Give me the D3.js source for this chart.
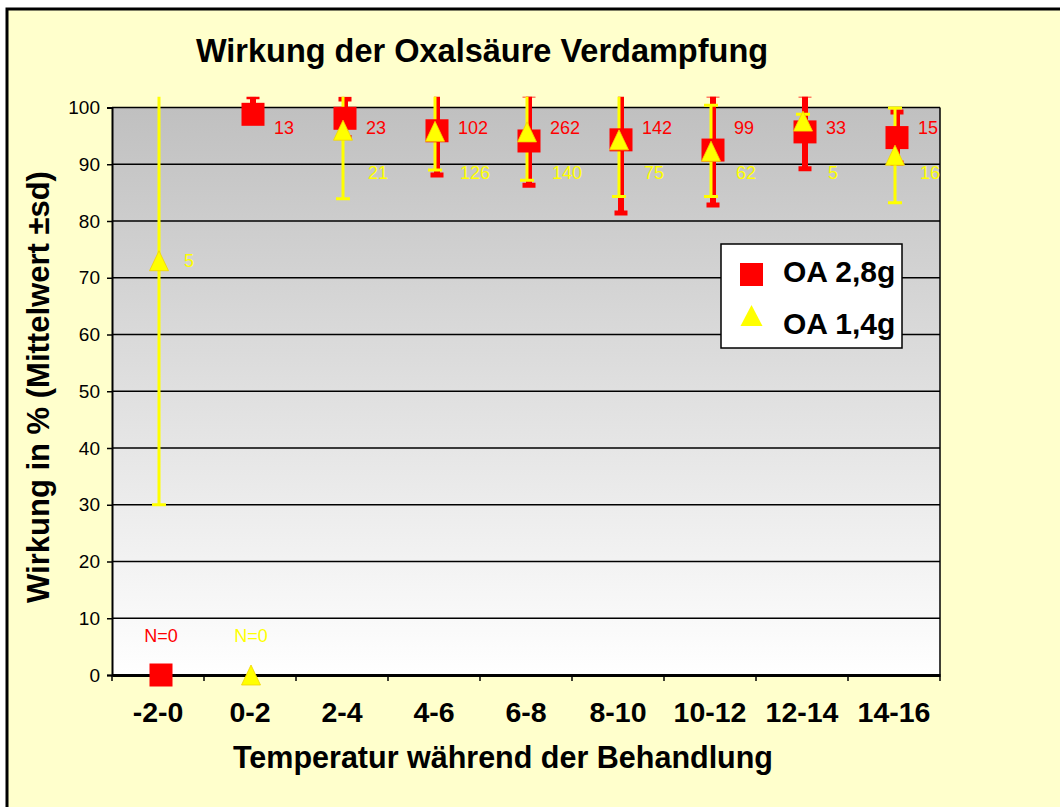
<!DOCTYPE html>
<html>
<head>
<meta charset="utf-8">
<script src="https://cdn.jsdelivr.net/npm/d3@7"></script>
<style>
  body { margin: 0; background: #fff; }
  svg { display: block; font-family: "Liberation Sans", Arial, sans-serif; }
</style>
</head>
<body>
<svg id="chart" width="1060" height="807"></svg>
<script>
const categories = ["-2-0", "0-2", "2-4", "4-6", "6-8", "8-10", "10-12", "12-14", "14-16"];

// OA 2,8g (red squares)
const redMean  = [0, 98.8, 98.1, 95.9, 94.1, 94.3, 92.5, 95.7, 94.7];
const redPlus  = [0, 3.1, 3.4, 7.8, 8.1, 12.9, 9.7, 6.5, 4.5];
const redMinus = [0, 0, 3.4, 7.8, 7.8, 12.9, 9.7, 6.5, 4.5];
const redN     = [0, 13, 23, 102, 262, 142, 99, 33, 15];

// OA 1,4g (yellow triangles)
const yellowMean  = [73.0, 0, 96.0, 95.8, 95.7, 94.3, 92.3, 97.6, 91.6];
const yellowPlus  = [43, 0, 12.1, 6.8, 8.5, 10, 8.1, 1.2, 8.3];
const yellowMinus = [43, 0, 12.1, 6.8, 8.5, 10, 8.0, 1.2, 8.4];
const yellowN     = [5, 0, 21, 126, 140, 75, 62, 5, 16];

const yTicks = [0, 10, 20, 30, 40, 50, 60, 70, 80, 90, 100];
const seriesNames = ["OA 2,8g", "OA 1,4g"];

const RED = "#ff0000";
const YELLOW = "#ffff00";
const FONT_B = "bold";

function drawChart() {
    const svg = d3.select("#chart");
    svg.selectAll("*").remove();

    const plot = { left: 112, right: 940, top: 107.5, bottom: 675 };

    const x = d3.scaleBand()
        .domain(categories)
        .range([plot.left, plot.right]);

    const y = d3.scaleLinear()
        .domain([0, 100])
        .range([plot.bottom, plot.top]);

    const defs = svg.append("defs");
    const grad = defs.append("linearGradient")
        .attr("id", "plotGrad")
        .attr("x1", 0).attr("y1", 0).attr("x2", 0).attr("y2", 1);
    grad.append("stop").attr("offset", "0%").attr("stop-color", "#c0c0c0");
    grad.append("stop").attr("offset", "100%").attr("stop-color", "#ffffff");

    defs.append("clipPath").attr("id", "errClip")
        .append("rect")
        .attr("x", 0).attr("y", y(101.9))
        .attr("width", 1060).attr("height", 807);

    // chart area background + outer frame
    svg.append("rect")
        .attr("x", 7).attr("y", 9)
        .attr("width", 1100).attr("height", 850)
        .attr("fill", "#ffffcc")
        .attr("stroke", "#000")
        .attr("stroke-width", 3);

    // plot area
    svg.append("rect")
        .attr("x", plot.left).attr("y", plot.top)
        .attr("width", plot.right - plot.left)
        .attr("height", plot.bottom - plot.top)
        .attr("fill", "url(#plotGrad)");

    // gridlines
    svg.append("g")
        .selectAll("line")
        .data(yTicks)
        .enter()
        .append("line")
        .attr("x1", plot.left).attr("x2", plot.right)
        .attr("y1", d => y(d)).attr("y2", d => y(d))
        .attr("stroke", "#000")
        .attr("stroke-width", 1.5);

    // right border of plot
    svg.append("line")
        .attr("x1", plot.right).attr("x2", plot.right)
        .attr("y1", plot.top).attr("y2", plot.bottom)
        .attr("stroke", "#000").attr("stroke-width", 1.5);

    // y axis
    const yAxis = svg.append("g")
        .attr("transform", `translate(${plot.left},0)`)
        .call(d3.axisLeft(y).tickValues(yTicks).tickSize(5).tickPadding(7));
    yAxis.select(".domain").attr("stroke", "#000").attr("stroke-width", 2);
    yAxis.selectAll(".tick line").attr("stroke", "#000").attr("stroke-width", 1.5);
    yAxis.selectAll(".tick text")
        .attr("font-size", 19)
        .attr("font-family", "Liberation Sans, Arial, sans-serif")
        .attr("fill", "#000");

    // x axis
    const xAxis = svg.append("g")
        .attr("transform", `translate(0,${plot.bottom})`)
        .call(d3.axisBottom(x).tickSize(0).tickPadding(47));
    xAxis.select(".domain").attr("stroke", "#000").attr("stroke-width", 3);
    xAxis.selectAll(".tick text")
        .attr("font-size", 28.5)
        .attr("font-weight", FONT_B)
        .attr("font-family", "Liberation Sans, Arial, sans-serif")
        .attr("fill", "#000")
        .attr("dy", 0);

    // x ticks at category boundaries
    const bounds = categories.map(c => x(c)).concat([plot.right]);
    svg.append("g")
        .selectAll("line")
        .data(bounds)
        .enter()
        .append("line")
        .attr("x1", d => d).attr("x2", d => d)
        .attr("y1", plot.bottom).attr("y2", plot.bottom + 6)
        .attr("stroke", "#000")
        .attr("stroke-width", 1.5);

    const cx = (i, dx) => x(categories[i]) + x.bandwidth() / 2 + dx;

    const redData = categories.map((c, i) => ({ i, mean: redMean[i], plus: redPlus[i], minus: redMinus[i], n: redN[i] }));
    const yellowData = categories.map((c, i) => ({ i, mean: yellowMean[i], plus: yellowPlus[i], minus: yellowMinus[i], n: yellowN[i] }));

    function errorBars(data, color, width, capW, capH, dx) {
        const g = svg.append("g").attr("clip-path", "url(#errClip)");
        const d2 = data.filter(d => d.n > 0);
        g.selectAll("line.stem")
            .data(d2)
            .enter()
            .append("line")
            .attr("x1", d => cx(d.i, dx)).attr("x2", d => cx(d.i, dx))
            .attr("y1", d => y(d.mean + d.plus))
            .attr("y2", d => y(d.mean - d.minus))
            .attr("stroke", color)
            .attr("stroke-width", width);
        const caps = [];
        d2.forEach(d => {
            if (d.plus > 0) caps.push({ i: d.i, v: d.mean + d.plus });
            if (d.minus > 0) caps.push({ i: d.i, v: d.mean - d.minus });
        });
        g.selectAll("line.cap")
            .data(caps)
            .enter()
            .append("line")
            .attr("x1", d => cx(d.i, dx) - capW / 2)
            .attr("x2", d => cx(d.i, dx) + capW / 2)
            .attr("y1", d => y(d.v)).attr("y2", d => y(d.v))
            .attr("stroke", color)
            .attr("stroke-width", capH);
    }

    errorBars(redData, RED, 6, 13, 5, 3);
    errorBars(yellowData, YELLOW, 3, 14, 3, 1);

    // red squares
    const sq = 23;
    svg.append("g")
        .selectAll("rect")
        .data(redData)
        .enter()
        .append("rect")
        .attr("x", d => cx(d.i, 3) - sq / 2)
        .attr("y", d => y(d.mean) - sq / 2)
        .attr("width", sq).attr("height", sq)
        .attr("fill", RED);

    // yellow triangles
    const tw = 19, th = 20;
    const tri = (px, py) => `M${px},${py - th / 2}L${px + tw / 2},${py + th / 2}L${px - tw / 2},${py + th / 2}Z`;
    svg.append("g")
        .selectAll("path")
        .data(yellowData)
        .enter()
        .append("path")
        .attr("d", d => tri(cx(d.i, 1), y(d.mean)))
        .attr("fill", YELLOW)
        .attr("stroke", "#f2d400")
        .attr("stroke-width", 0.8);

    // N labels: red on a fixed row, yellow on a fixed row unless the mean is lower
    const redLabelLevel = 96.5;
    const yellowLabelLevel = 88.5;
    const nZeroLevel = 7;

    function nLabels(data, color, levelOf, dx, gap) {
        svg.append("g")
            .selectAll("text")
            .data(data)
            .enter()
            .append("text")
            .attr("x", d => d.n > 0 ? cx(d.i, dx) + gap : cx(d.i, dx))
            .attr("y", d => d.n > 0 ? y(levelOf(d)) : y(nZeroLevel))
            .attr("dy", "0.35em")
            .attr("text-anchor", d => d.n > 0 ? "start" : "middle")
            .attr("font-size", 18)
            .attr("fill", color)
            .text(d => d.n > 0 ? d.n : "N=0");
    }
    nLabels(redData, RED, d => redLabelLevel, 3, 21);
    nLabels(yellowData, YELLOW, d => Math.min(yellowLabelLevel, d.mean), 1, 25);

    // title
    svg.append("text")
        .attr("x", 482).attr("y", 62)
        .attr("text-anchor", "middle")
        .attr("font-size", 32.5)
        .attr("font-weight", FONT_B)
        .text("Wirkung der Oxalsäure Verdampfung");

    // x axis title
    svg.append("text")
        .attr("x", 503).attr("y", 768)
        .attr("text-anchor", "middle")
        .attr("font-size", 30.5)
        .attr("font-weight", FONT_B)
        .text("Temperatur während der Behandlung");

    // y axis title
    svg.append("text")
        .attr("transform", `translate(49,387) rotate(-90)`)
        .attr("text-anchor", "middle")
        .attr("font-size", 31)
        .attr("font-weight", FONT_B)
        .text("Wirkung in % (Mittelwert ±sd)");

    // legend
    const legend = svg.append("g").attr("transform", "translate(721,244)");
    legend.append("rect")
        .attr("width", 181).attr("height", 104)
        .attr("fill", "#fff")
        .attr("stroke", "#000")
        .attr("stroke-width", 1.5);
    legend.append("rect")
        .attr("x", 19).attr("y", 19)
        .attr("width", 23).attr("height", 23)
        .attr("fill", RED);
    legend.append("path")
        .attr("d", "M30.5,61L41.5,82L19.5,82Z")
        .attr("fill", YELLOW);
    legend.selectAll("text.lab")
        .data(seriesNames)
        .enter()
        .append("text")
        .attr("x", 62)
        .attr("y", (d, i) => 38 + i * 52)
        .attr("font-size", 30)
        .attr("font-weight", FONT_B)
        .text(d => d);
}

drawChart();
</script>
</body>
</html>
